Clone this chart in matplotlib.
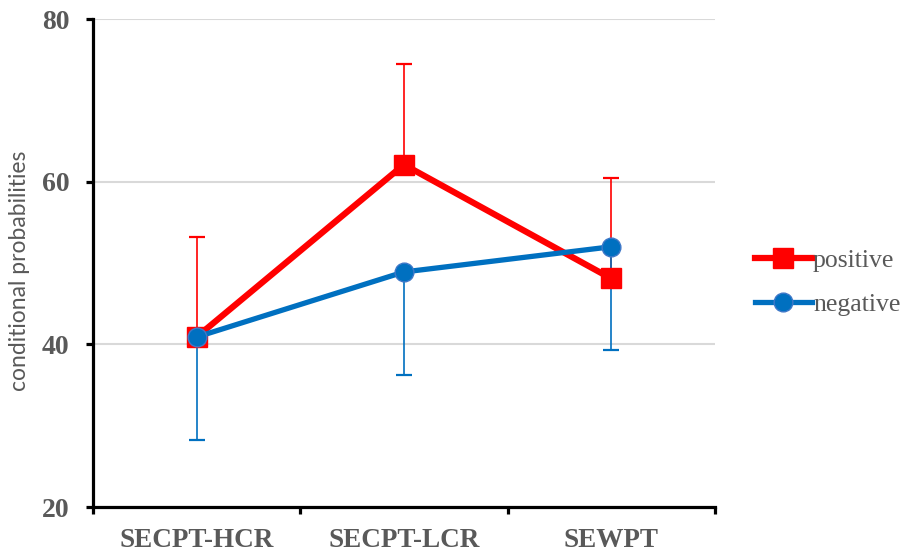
import matplotlib
matplotlib.use("Agg")
import matplotlib.pyplot as plt
from matplotlib.ticker import FixedLocator

categories = ["SECPT-HCR", "SECPT-LCR", "SEWPT"]
positive = [40.9, 62.1, 48.1]
positive_err = [12.3, 12.4, 12.3]
negative = [40.9, 48.9, 52.0]
negative_err = [12.7, 12.7, 12.7]
y_ticks = [20, 40, 60, 80]

RED = "#FF0000"
BLUE = "#0070C0"
GRAY = "#595959"
SERIF = ["Liberation Serif", "DejaVu Serif"]

fig = plt.figure(figsize=(9.06, 5.52), dpi=100)
ax = fig.add_axes([0.1026, 0.0815, 0.6864, 0.884])

x = list(range(len(categories)))

# one-sided error bars: up for positive, down for negative
ax.errorbar(x, positive, yerr=[[0] * 3, positive_err], fmt="none",
            ecolor=RED, elinewidth=1.2, capsize=5.5, capthick=1.6, zorder=3)
ax.errorbar(x, negative, yerr=[negative_err, [0] * 3], fmt="none",
            ecolor=BLUE, elinewidth=1.2, capsize=5.5, capthick=1.6, zorder=3)

ax.plot(x, positive, color=RED, lw=4.5, marker="s", markersize=14.5,
        markerfacecolor=RED, markeredgecolor=RED, label="positive", zorder=4)
ax.plot(x, negative, color=BLUE, lw=3.8, marker="o", markersize=13.5,
        markerfacecolor=BLUE, markeredgecolor="#3F78C8", markeredgewidth=1.0,
        label="negative", zorder=5)

ax.set_xlim(-0.5, 2.5)
ax.set_ylim(20, 80)
ax.set_yticks(y_ticks)
ax.yaxis.grid(True, color="#D9D9D9", lw=1.5)
ax.set_axisbelow(True)

for side in ("top", "right"):
    ax.spines[side].set_visible(False)
for side in ("left", "bottom"):
    ax.spines[side].set_linewidth(2.3)
    ax.spines[side].set_color("black")

ax.set_xticks(x)
ax.set_xticklabels(categories)
ax.xaxis.set_minor_locator(FixedLocator([-0.5, 0.5, 1.5, 2.5]))
ax.tick_params(axis="x", which="major", length=0, pad=15)
ax.tick_params(axis="x", which="minor", length=5, width=2.3, direction="out")
ax.tick_params(axis="y", length=5, width=2.3, direction="out", pad=12)

for lab in ax.get_xticklabels():
    lab.set_fontfamily(SERIF)
    lab.set_fontweight("bold")
    lab.set_fontsize(19.5)
    lab.set_color(GRAY)
for lab in ax.get_yticklabels():
    lab.set_fontfamily(SERIF)
    lab.set_fontweight("bold")
    lab.set_fontsize(20)
    lab.set_color(GRAY)

fig.text(0.022, 0.51, "conditional probabilities", rotation=90, ha="center",
         va="center", fontsize=16.5, color=GRAY, family=["Lato", "DejaVu Sans"])

leg = ax.legend(loc="center left", bbox_to_anchor=(0.808, 0.489),
                bbox_transform=fig.transFigure, frameon=False,
                prop={"family": SERIF, "size": 18.5}, handlelength=2.2,
                handletextpad=0.05, labelspacing=0.82)
for t in leg.get_texts():
    t.set_color(GRAY)

fig.savefig("out.png", dpi=100)
